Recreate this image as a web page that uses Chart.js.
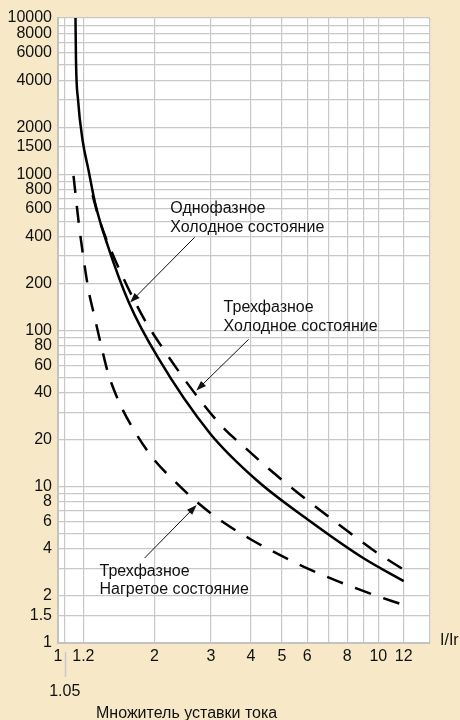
<!DOCTYPE html>
<html><head><meta charset="utf-8">
<script src="https://cdn.jsdelivr.net/npm/chart.js@4.4.1/dist/chart.umd.min.js"></script>
<style>html,body{margin:0;padding:0;background:#F7E9C7;}canvas{display:block}</style>
</head><body>
<canvas id="c" width="460" height="720" style="width:460px;height:720px"></canvas>
<script>
// Однофазное, холодное состояние (сплошная)
const singleColdX = [1.134, 1.138, 1.155, 1.193, 1.245, 1.310, 1.428, 1.667, 2.046, 2.975, 4.163, 6.11, 8.97, 12];
const singleColdY = [10000, 5385, 2990, 1657, 1065, 636, 352, 150, 67.7, 22.1, 11.05, 6.04, 3.50, 2.49];
// Трехфазное, холодное состояние (штрих)
const threeColdX = [1.282, 1.353, 1.48, 1.649, 1.864, 2.121, 2.427, 2.802, 3.267, 3.882, 4.638, 5.553, 6.693, 8.087, 9.80, 12];
const threeColdY = [736, 495, 309, 190, 117, 77.3, 51.9, 35.0, 24.1, 17.4, 12.6, 9.30, 6.89, 5.13, 3.84, 2.95];
// Трехфазное, нагретое состояние (штрих)
const threeHotX = [1.118, 1.163, 1.201, 1.245, 1.296, 1.358, 1.433, 1.556, 1.734, 1.988, 2.329, 2.749, 3.290, 4.016, 4.922, 6.05, 7.49, 9.27, 12];
const threeHotY = [975, 473, 291, 182, 126, 83.2, 53.5, 34.4, 22.7, 15.05, 10.7, 7.81, 5.90, 4.58, 3.66, 2.98, 2.48, 2.10, 1.75];

const xMin = 1, xMax = 14.5, yMin = 1, yMax = 10000;
const xTickValues = [1, 1.05, 1.2, 2, 3, 4, 5, 6, 7, 8, 9, 10, 12, 14.5];
const xTickLabels = ['1', '1.05', '1.2', '2', '3', '4', '5', '6', '', '8', '', '10', '12', ''];
const xLoweredLabelValues = [1.05];
const yTickValues = [1,1.5,2,3,4,5,6,7,8,9, 10,20,30,40,50,60,70,80,90, 100,200,300,400,500,600,700,800,900, 1000,1500,2000,3000,4000,5000,6000,7000,8000,9000, 10000];
const yTickLabels = ['1','1.5','2','','4','','6','','8','', '10','20','','40','','60','','80','', '100','200','','400','','600','','800','', '1000','1500','2000','','4000','','6000','','8000','', '10000'];

const xAxisUnit = 'I/Ir';
const xAxisTitle = 'Множитель уставки тока';

const noteTexts = [['Однофазное', 'Холодное состояние'], ['Трехфазное', 'Холодное состояние'], ['Трехфазное', 'Нагретое состояние']];
const noteTextAt = [[2.242, 561], [3.289, 130.8], [1.348, 2.685]];
const noteArrowFrom = [[2.671, 395], [3.937, 87.8], [1.864, 3.50]];
const noteArrowTo = [[1.679, 151], [2.704, 41.3], [2.709, 7.64]];

const FONT = '"Liberation Sans", Arial, Helvetica, sans-serif';
const toPts = (xs, ys) => xs.map((x, i) => ({x, y: ys[i]}));

const decor = {
  id: 'decor',
  beforeDraw(chart) {
    const {ctx, chartArea: a} = chart;
    ctx.save();
    ctx.fillStyle = '#ffffff';
    ctx.fillRect(a.left, a.top, a.right - a.left, a.bottom - a.top);
    ctx.restore();
  },
  afterDraw(chart) {
    const {ctx, chartArea: a, scales} = chart;
    const X = v => scales.x.getPixelForValue(v), Y = v => scales.y.getPixelForValue(v);
    ctx.save();
    ctx.fillStyle = '#111';
    ctx.strokeStyle = '#111';
    ctx.font = '16px ' + FONT;
    ctx.textBaseline = 'alphabetic';
    ctx.textAlign = 'left';
    noteTexts.forEach((lines, i) => {
      const px = X(noteTextAt[i][0]), py = Y(noteTextAt[i][1]);
      lines.forEach((t, j) => ctx.fillText(t, px, py + j * 18.5));
      const x0 = X(noteArrowFrom[i][0]), y0 = Y(noteArrowFrom[i][1]);
      const x1 = X(noteArrowTo[i][0]), y1 = Y(noteArrowTo[i][1]);
      const ang = Math.atan2(y1 - y0, x1 - x0), L = 10, W = 3.6;
      ctx.lineWidth = 1;
      ctx.beginPath(); ctx.moveTo(x0, y0);
      ctx.lineTo(x1 - Math.cos(ang) * L * 0.8, y1 - Math.sin(ang) * L * 0.8); ctx.stroke();
      ctx.beginPath();
      ctx.moveTo(x1, y1);
      ctx.lineTo(x1 - Math.cos(ang) * L - Math.sin(ang) * W, y1 - Math.sin(ang) * L + Math.cos(ang) * W);
      ctx.lineTo(x1 - Math.cos(ang) * L + Math.sin(ang) * W, y1 - Math.sin(ang) * L - Math.cos(ang) * W);
      ctx.closePath(); ctx.fill();
    });
    // axis unit and title
    ctx.textBaseline = 'middle';
    ctx.fillText(xAxisUnit, a.right + 10, a.bottom - 2);
    ctx.textBaseline = 'alphabetic';
    ctx.fillText(xAxisTitle, 96, 718);
    // leader for lowered tick label
    ctx.strokeStyle = '#c8c8c8';
    ctx.lineWidth = 1.5;
    xLoweredLabelValues.forEach(v => {
      const px = Math.round(X(v)) + 0.5;
      ctx.beginPath(); ctx.moveTo(px, a.bottom + 9); ctx.lineTo(px, a.bottom + 34); ctx.stroke();
    });
    ctx.restore();
  }
};

const baseDs = {pointRadius: 0, borderColor: '#000', borderWidth: 2.5, fill: false, cubicInterpolationMode: 'monotone'};

new Chart(document.getElementById('c'), {
  type: 'line',
  data: {
    datasets: [
      Object.assign({label: 'Однофазное, холодное', data: toPts(singleColdX, singleColdY)}, baseDs),
      Object.assign({label: 'Трехфазное, холодное', data: toPts(threeColdX, threeColdY), borderDash: [17, 13]}, baseDs),
      Object.assign({label: 'Трехфазное, нагретое', data: toPts(threeHotX, threeHotY), borderDash: [17, 13]}, baseDs)
    ]
  },
  options: {
    responsive: false,
    devicePixelRatio: 1,
    animation: false,
    layout: {padding: {top: 18, right: 30, bottom: 0, left: 0}},
    plugins: {legend: {display: false}, tooltip: {enabled: false}},
    scales: {
      x: {
        type: 'logarithmic', min: xMin, max: xMax,
        afterFit: s => { s.height = 77; },
        afterBuildTicks: s => { s.ticks = xTickValues.map(v => ({value: v})); },
        grid: {color: '#c8c8c8', lineWidth: 1.2, drawTicks: false},
        border: {display: true, color: '#c2c2c2', width: 2},
        ticks: {
          autoSkip: false, maxRotation: 0, padding: 5, color: '#111',
          font: {family: FONT, size: 16, lineHeight: 1.1},
          callback: v => {
            const i = xTickValues.indexOf(v);
            const t = i >= 0 ? xTickLabels[i] : '';
            return xLoweredLabelValues.includes(v) ? ['', '', t] : t;
          }
        }
      },
      y: {
        type: 'logarithmic', min: yMin, max: yMax,
        afterFit: s => { s.width = 58; },
        afterBuildTicks: s => { s.ticks = yTickValues.map(v => ({value: v})); },
        grid: {color: '#c8c8c8', lineWidth: 1.2, drawTicks: false},
        border: {display: true, color: '#c2c2c2', width: 2},
        ticks: {
          autoSkip: false, padding: 6, color: '#111',
          font: {family: FONT, size: 16},
          callback: v => { const i = yTickValues.indexOf(v); return i >= 0 ? yTickLabels[i] : ''; }
        }
      }
    }
  },
  plugins: [decor]
});
</script>
</body></html>
